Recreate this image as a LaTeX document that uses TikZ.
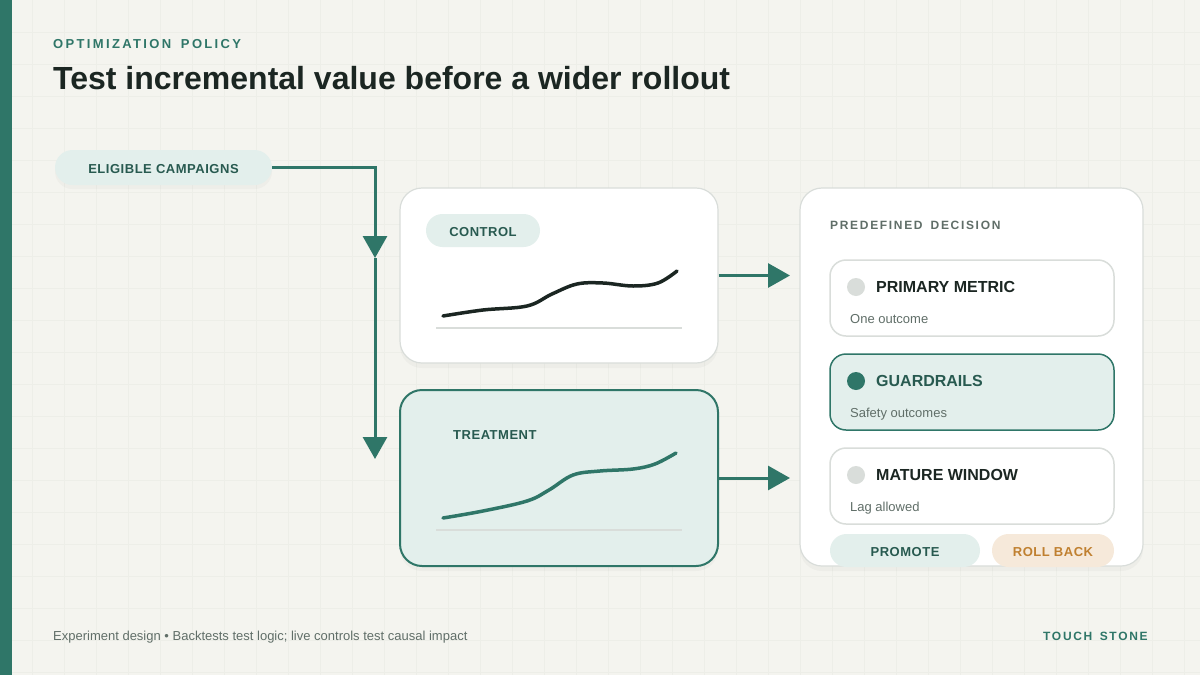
\documentclass[tikz,border=0pt]{standalone}
\usepackage{fontspec}
\setmainfont{Liberation Sans}
\newfontfamily\anchofont[LetterSpace=18]{Liberation Sans}
\newfontfamily\medfont[LetterSpace=14]{Liberation Sans}
\newfontfamily\tagfont[LetterSpace=4]{Liberation Sans}
\usepackage{xcolor}
\definecolor{fondo}{RGB}{244,244,239}
\definecolor{rejilla}{RGB}{237,238,232}
\definecolor{verde}{RGB}{47,118,104}
\definecolor{verdeosc}{RGB}{40,90,80}
\definecolor{verdeclaro}{RGB}{227,239,236}
\definecolor{gris85}{RGB}{217,221,218}
\definecolor{gris45}{RGB}{96,110,104}
\definecolor{tinta}{RGB}{27,38,34}
\definecolor{crema}{RGB}{246,233,218}
\definecolor{naranja}{RGB}{192,128,48}
\usepackage{tikz}
\usetikzlibrary{positioning,arrows.meta,shadows}

\begin{document}
\begin{tikzpicture}[
    x=1pt, y=-1pt,
    card/.style={rectangle, draw=gris85, line width=1.2pt, fill=white,
      rounded corners=22pt, inner sep=0pt,
      drop shadow={opacity=0.06, shadow xshift=0pt, shadow yshift=-5pt}},
    pill/.style={rectangle, fill=verdeclaro, rounded corners=16.5pt, inner sep=0pt,
      text height=12pt, text depth=0pt,
      text=verdeosc, font=\tagfont\bfseries\fontsize{13}{15}\selectfont},
    item/.style={rectangle, draw=gris85, line width=1.5pt, fill=white,
      rounded corners=16pt, minimum width=284pt, minimum height=76pt, inner sep=0pt},
    dot/.style={circle, fill=gris85, minimum size=18pt, inner sep=0pt},
    itemtitle/.style={anchor=base west, inner sep=0pt, text=tinta,
      font=\bfseries\fontsize{16}{19}\selectfont},
    itemnote/.style={anchor=base west, inner sep=0pt, text=gris45,
      font=\fontsize{13}{15}\selectfont},
    flow/.style={draw=verde, line width=3pt, -{Triangle[width=24pt,length=22pt]}},
    trend/.style={line width=3.5pt, line cap=round},
    axis/.style={draw=gris85, line width=1.5pt}
  ]
    \useasboundingbox (0,0) rectangle (1200,675);
    \fill[fondo] (0,0) rectangle (1200,675);
    \foreach \gx in {32,64,...,1184}
      \draw[rejilla, line width=0.6pt] (\gx,0) -- (\gx,675);
    \foreach \gy in {32,64,...,672}
      \draw[rejilla, line width=0.6pt] (0,\gy) -- (1200,\gy);
    \fill[verde] (0,0) rectangle (12,675);

    \node[anchor=base west, inner sep=0pt, text=verde,
      font=\anchofont\bfseries\fontsize{13}{15}\selectfont] (kicker) at (53,48) {OPTIMIZATION\hspace{0.3em} POLICY};
    \node[anchor=base west, inner sep=0pt, text=tinta,
      font=\bfseries\fontsize{32}{38}\selectfont] (title) at (53,89) {Test incremental value before a wider rollout};

    \node[pill, minimum width=217pt, minimum height=35pt, rounded corners=17.5pt,
      drop shadow={opacity=0.05, shadow xshift=0pt, shadow yshift=-4pt}] (elig) at (163.5,167.5) {ELIGIBLE CAMPAIGNS};

    \node[card, minimum width=318pt, minimum height=175pt] (control) at (559,275.5) {};
    \node[pill, minimum width=114pt, minimum height=33pt] (ctrltag) at (483,230.5) {CONTROL};
    \draw[axis] (436,328) -- (682,328);
    \draw[trend, tinta] plot[smooth, tension=0.6] coordinates
      {(443,316) (483,310) (527,306) (552,294) (577,284) (603,283) (633,286) (658,283) (677,271)};

    \node[card, draw=verde, fill=verdeclaro, line width=2pt,
      minimum width=318pt, minimum height=176pt] (treatment) at (559,478) {};
    \node[anchor=base west, inner sep=0pt, text=verdeosc,
      font=\tagfont\bfseries\fontsize{13}{15}\selectfont] (treattag) at (453,439) {TREATMENT};
    \draw[axis] (436,530) -- (682,530);
    \draw[trend, verde] plot[smooth, tension=0.6] coordinates
      {(443,518) (483,511) (527,501) (549,490) (573,475) (600,471) (633,469) (655,464) (676,453)};

    \coordinate (bend) at (375,258);
    \coordinate (drop) at (375,459);
    \coordinate (ctrlin) at (790,275.5);
    \coordinate (treatin) at (790,478);
    \draw[flow] (elig.east) -| (bend);
    \draw[flow] (bend) -- (drop);
    \draw[flow] (control.east) -- (ctrlin);
    \draw[flow] (treatment.east) -- (treatin);

    \node[card, minimum width=343pt, minimum height=378pt] (panel) at (971.5,377) {};
    \node[anchor=base west, inner sep=0pt, text=gris45,
      font=\medfont\bfseries\fontsize{12}{14}\selectfont] (paneltitle) at (830,229) {PREDEFINED\hspace{0.25em} DECISION};

    \node[item] (primary) at (972,298) {};
    \node[dot] (pdot) at (856,287) {};
    \node[itemtitle] (ptitle) at (876,292) {PRIMARY METRIC};
    \node[itemnote] (pnote) at (850,323) {One outcome};

    \node[item, draw=verde, fill=verdeclaro] (guard) at (972,392) {};
    \node[dot, fill=verde] (gdot) at (856,381) {};
    \node[itemtitle, text=verdeosc] (gtitle) at (876,386) {GUARDRAILS};
    \node[itemnote] (gnote) at (850,417) {Safety outcomes};

    \node[item] (mature) at (972,486) {};
    \node[dot] (mdot) at (856,475) {};
    \node[itemtitle] (mtitle) at (876,480) {MATURE WINDOW};
    \node[itemnote] (mnote) at (850,511) {Lag allowed};

    \node[pill, minimum width=150pt, minimum height=33pt] (promote) at (905,550.5) {PROMOTE};
    \node[pill, fill=crema, text=naranja, minimum width=122pt, minimum height=33pt] (rollback) at (1053,550.5) {ROLL BACK};

    \node[anchor=base west, inner sep=0pt, text=gris45,
      font=\fontsize{13}{15}\selectfont] (footer) at (53,640) {Experiment design \textbullet{} Backtests test logic; live controls test causal impact};
    \node[anchor=base west, inner sep=0pt, text=verde,
      font=\medfont\bfseries\fontsize{12}{14}\selectfont] (brand) at (1043,640) {TOUCH\hspace{0.2em} STONE};
  \end{tikzpicture}
\end{document}
